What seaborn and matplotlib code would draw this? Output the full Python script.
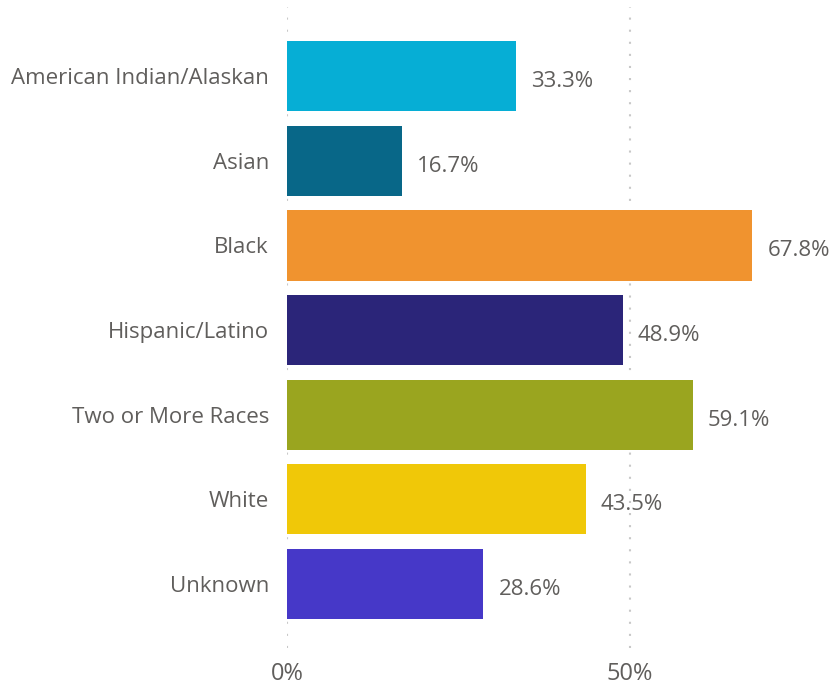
import seaborn as sns
import matplotlib.pyplot as plt
import pandas as pd

# datos
categorias = ["American Indian/Alaskan", "Asian", "Black", "Hispanic/Latino",
              "Two or More Races", "White", "Unknown"]
valores = [33.3, 16.7, 67.8, 48.9, 59.1, 43.5, 28.6]
colores = ["#06AED5", "#086788", "#F0932F", "#2B2579", "#9AA51F", "#F0C808", "#4638C8"]
ticks = [0, 50]
tick_labels = ["0%", "50%"]

df = pd.DataFrame({"grupo": categorias, "valor": valores})

sns.set_style("white")
plt.rcParams["font.family"] = ["Open Sans", "DejaVu Sans"]
gris = "#605E5C"

fig = plt.figure(figsize=(8.34, 6.9), dpi=100)
ax = fig.add_axes([287 / 834, 42 / 690, 547 / 834, 641 / 690])

sns.barplot(data=df, x="valor", y="grupo", hue="grupo", palette=colores,
            orient="h", width=0.83, saturation=1, linewidth=0,
            legend=False, ax=ax)

# líneas de la cuadrícula punteadas
for t in ticks:
    ax.axvline(t, color="#C8C8C8", linewidth=1.5, linestyle=(0, (1, 4.8)), zorder=0)

for cont in ax.containers:
    for txt in ax.bar_label(cont, fmt="%.1f%%", padding=11, fontsize=16, color=gris):
        txt.xyann = (txt.xyann[0], -4)

ax.set_xlim(0, 79.7)
ax.set_ylim(6.757, -0.817)
ax.set_xticks(ticks)
ax.set_xticklabels(tick_labels)
ax.set_xlabel("")
ax.set_ylabel("")
ax.tick_params(axis="x", labelsize=17, colors=gris, length=0, pad=10)
ax.tick_params(axis="y", labelsize=16, colors=gris, length=0, pad=13)
sns.despine(left=True, bottom=True)
ax.grid(False)

fig.savefig("out.png", dpi=100)
